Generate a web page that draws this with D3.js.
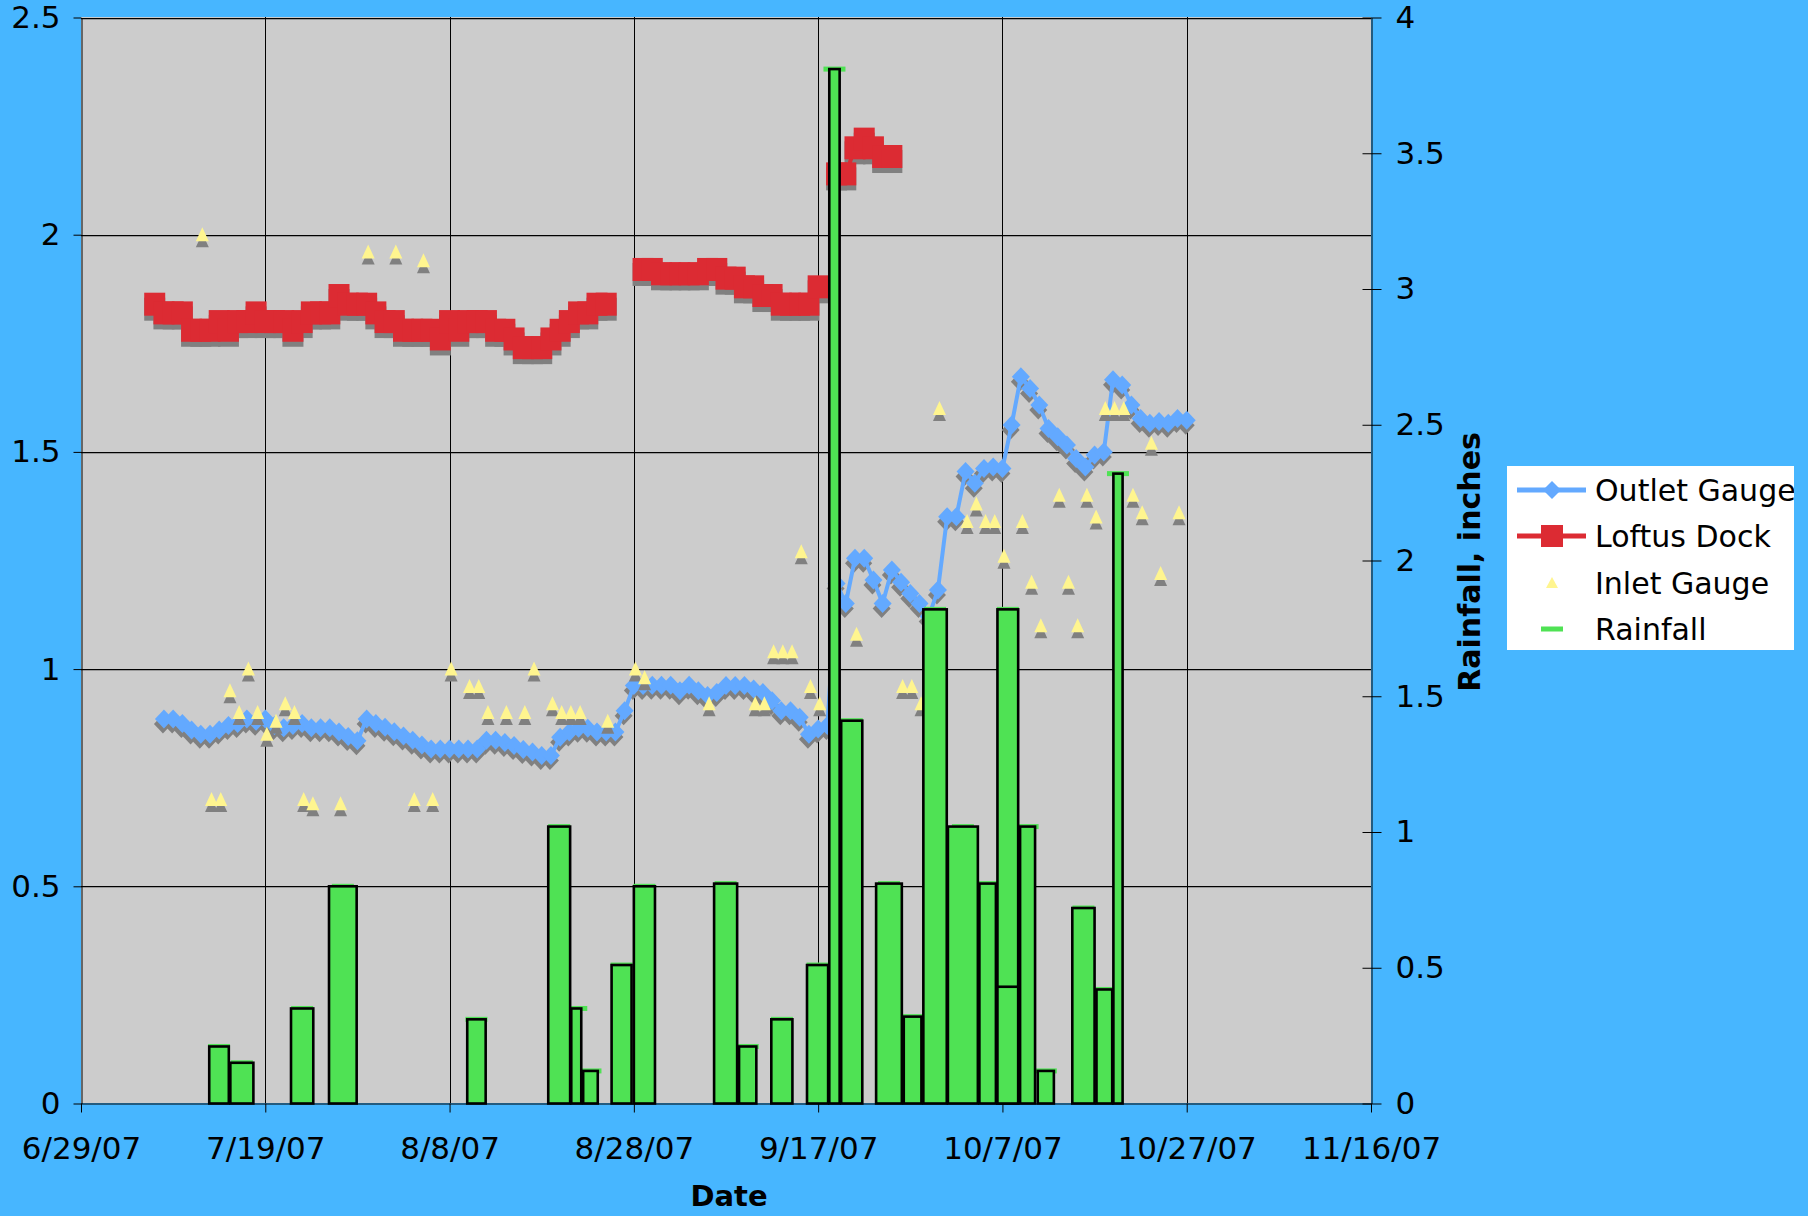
<!DOCTYPE html>
<html>
<head>
<meta charset="utf-8">
<script src="https://cdn.jsdelivr.net/npm/d3@7"></script>
<style>
  body { margin: 0; background: #47b6ff; }
  svg { display: block; font-family: "DejaVu Sans", Verdana, sans-serif; }
</style>
</head>
<body>
<svg id="chart" width="1808" height="1216"></svg>
<script>
// axis ticks
const dateTicks = ["6/29/07", "7/19/07", "8/8/07", "8/28/07", "9/17/07", "10/7/07", "10/27/07", "11/16/07"];
const levelTicks = [0, 0.5, 1, 1.5, 2, 2.5];
const rainTicks = [0, 0.5, 1, 1.5, 2, 2.5, 3, 3.5, 4];

// Outlet Gauge, one reading a day from 7/8/07
const outletStart = "7/8/07";
const outletLevel = [
  0.885, 0.885, 0.875, 0.86, 0.85, 0.85, 0.86, 0.87, 0.875, 0.885,
  0.88, 0.885, 0.87, 0.865, 0.87, 0.875, 0.865, 0.865, 0.865, 0.855,
  0.845, 0.835, 0.885, 0.875, 0.866, 0.856, 0.846, 0.836, 0.825, 0.816,
  0.816, 0.816, 0.816, 0.816, 0.816, 0.836, 0.836, 0.831, 0.824, 0.815,
  0.809, 0.801, 0.801, 0.843, 0.855, 0.864, 0.864, 0.855, 0.855, 0.855,
  0.904, 0.962, 0.962, 0.963, 0.963, 0.963, 0.95, 0.963, 0.95, 0.939,
  0.946, 0.962, 0.962, 0.962, 0.954, 0.946, 0.927, 0.904, 0.904, 0.889,
  0.85, 0.862, 0.87, 1.197, 1.151, 1.255, 1.255, 1.205, 1.151, 1.228,
  1.2, 1.174, 1.151, 1.121, 1.182, 1.351, 1.351, 1.455, 1.428, 1.462,
  1.465, 1.462, 1.562, 1.673, 1.646, 1.608, 1.554, 1.535, 1.516, 1.485,
  1.465, 1.493, 1.5, 1.666, 1.654, 1.608, 1.577, 1.566, 1.57, 1.566,
  1.577, 1.573
];

// Loftus Dock, one reading a day from 7/7/07 (null = no reading)
const loftusStart = "7/7/07";
const loftusLevel = [
  1.84, 1.82, 1.82, 1.82, 1.78, 1.78, 1.78, 1.80, 1.78, 1.80,
  1.80, 1.82, 1.80, 1.80, 1.80, 1.78, 1.80, 1.82, 1.82, 1.82,
  1.86, 1.84, 1.84, 1.84, 1.82, 1.80, 1.80, 1.78, 1.78, 1.78,
  1.78, 1.76, 1.80, 1.78, 1.80, 1.80, 1.80, 1.78, 1.78, 1.76,
  1.74, 1.74, 1.74, 1.76, 1.78, 1.80, 1.82, 1.82, 1.84, 1.84,
  null, null, null, 1.92, 1.92, 1.91, 1.91, 1.91, 1.91, 1.91,
  1.92, 1.92, 1.90, 1.90, 1.88, 1.88, 1.86, 1.86, 1.84, 1.84,
  1.84, 1.84, 1.88, null, 2.14, 2.14, 2.20, 2.22, 2.20, 2.18, 2.18
];

// Inlet Gauge spot readings
const inletDates = [
  "7/12/07 04:00", "7/13/07 04:00", "7/14/07 04:00", "7/15/07 04:00", "7/16/07 04:00",
  "7/17/07 04:00", "7/18/07 04:00", "7/19/07 04:00", "7/20/07 04:00", "7/21/07 04:00",
  "7/22/07 04:00", "7/23/07 04:00", "7/24/07 04:00", "7/27/07 04:00", "7/30/07 04:00",
  "8/2/07 04:00", "8/4/07 04:00", "8/5/07 04:00", "8/6/07 04:00", "8/8/07 04:00",
  "8/10/07 04:00", "8/11/07 04:00", "8/12/07 04:00", "8/14/07 04:00", "8/16/07 04:00",
  "8/17/07 04:00", "8/19/07 04:00", "8/20/07 04:00", "8/21/07 04:00", "8/22/07 04:00",
  "8/25/07 04:00", "8/28/07 04:00", "8/29/07 04:00", "9/5/07 04:00", "9/10/07 04:00",
  "9/11/07 04:00", "9/12/07 04:00", "9/13/07 04:00", "9/14/07 04:00", "9/15/07 04:00",
  "9/16/07 04:00", "9/17/07 04:00", "9/21/07 04:00", "9/26/07 04:00", "9/27/07 04:00",
  "9/28/07 04:00", "9/30/07 04:00", "10/3/07 04:00", "10/4/07 04:00", "10/5/07 04:00",
  "10/6/07 04:00", "10/7/07 04:00", "10/9/07 04:00", "10/10/07 04:00", "10/11/07 04:00",
  "10/13/07 04:00", "10/14/07 04:00", "10/15/07 04:00", "10/16/07 04:00", "10/17/07 04:00",
  "10/18/07 04:00", "10/19/07 04:00", "10/20/07 04:00", "10/21/07 04:00", "10/22/07 04:00",
  "10/23/07 04:00", "10/24/07 04:00", "10/26/07 04:00"
];
const inletLevel = [
  2.00, 0.70, 0.70, 0.95, 0.90, 1.00, 0.90, 0.85, 0.88, 0.92,
  0.90, 0.70, 0.69, 0.69, 1.96, 1.96, 0.70, 1.94, 0.70, 1.00,
  0.96, 0.96, 0.90, 0.90, 0.90, 1.00, 0.92, 0.90, 0.90, 0.90,
  0.88, 1.00, 0.98, 0.92, 0.92, 0.92, 1.04, 1.04, 1.04, 1.27,
  0.96, 0.92, 1.08, 0.96, 0.96, 0.92, 1.60, 1.34, 1.38, 1.34,
  1.34, 1.26, 1.34, 1.20, 1.10, 1.40, 1.20, 1.10, 1.40, 1.35,
  1.60, 1.60, 1.60, 1.40, 1.36, 1.52, 1.22, 1.36
];

// Rainfall (inches) per collection period
const rainFrom = [
  "7/12/07 22:00", "7/15/07 05:00", "7/21/07 19:00", "7/25/07 22:00", "8/9/07 22:00",
  "8/18/07 17:00", "8/21/07 05:00", "8/22/07 12:00", "8/25/07 14:00", "8/28/07 00:00",
  "9/5/07 17:00", "9/8/07 10:00", "9/11/07 22:00", "9/15/07 19:00", "9/18/07 05:00",
  "9/19/07 12:00", "9/23/07 07:00", "9/26/07 07:00", "9/28/07 10:00", "10/1/07 02:00",
  "10/4/07 12:00", "10/6/07 11:00", "10/6/07 11:00", "10/8/07 22:00", "10/10/07 20:00",
  "10/14/07 14:00", "10/17/07 05:00", "10/19/07 01:00"
];
const rainTo = [
  "7/15/07 01:00", "7/17/07 17:00", "7/24/07 05:00", "7/28/07 22:00", "8/11/07 22:00",
  "8/21/07 02:00", "8/22/07 07:00", "8/24/07 02:00", "8/27/07 18:00", "8/30/07 07:00",
  "9/8/07 05:00", "9/10/07 07:00", "9/14/07 05:00", "9/18/07 02:00", "9/19/07 08:00",
  "9/21/07 19:00", "9/26/07 02:00", "9/28/07 05:00", "9/30/07 23:00", "10/4/07 08:00",
  "10/6/07 07:00", "10/8/07 17:00", "10/8/07 17:00", "10/10/07 13:00", "10/12/07 14:00",
  "10/17/07 00:00", "10/18/07 22:00", "10/20/07 01:00"
];
const rainInches = [
  0.21, 0.15, 0.35, 0.80, 0.31, 1.02, 0.35, 0.12, 0.51, 0.80,
  0.81, 0.21, 0.31, 0.51, 3.81, 1.41, 0.81, 0.32, 1.82, 1.02,
  0.81, 1.82, 0.43, 1.02, 0.12, 0.72, 0.42, 2.32
];

const W = 1808, H = 1216;
const plotL = 81, plotR = 1371, plotT = 17, plotB = 1103;

const blue = "#63a9ff", red = "#dc2b33", yellow = "#fff58f", green = "#4fe254", shadow = "#808080";

const parseDay = d3.timeParse("%m/%d/%y");
const parseTime = d3.timeParse("%m/%d/%y %H:%M");

const x = d3.scaleTime()
  .domain([parseDay(dateTicks[0]), parseDay(dateTicks[dateTicks.length - 1])])
  .range([plotL, plotR]);
const yLevel = d3.scaleLinear().domain([0, 2.5]).range([plotB + 0.5, plotT + 0.5]);
const yRain = d3.scaleLinear().domain([0, 4]).range([plotB + 0.5, plotT + 0.5]);

const outletData = outletLevel.map((v, i) => ({ date: d3.timeDay.offset(parseDay(outletStart), i), v }));
const loftusData = loftusLevel.map((v, i) => ({ date: d3.timeDay.offset(parseDay(loftusStart), i), v }));
const inletData = inletLevel.map((v, i) => ({ date: parseTime(inletDates[i]), v }));
const rainData = rainInches.map((v, i) => ({ from: parseTime(rainFrom[i]), to: parseTime(rainTo[i]), v }));

const svg = d3.select("#chart");

svg.append("rect").attr("width", W).attr("height", H).attr("fill", "#47b6ff");
svg.append("rect")
  .attr("x", plotL).attr("y", plotT)
  .attr("width", plotR - plotL).attr("height", plotB - plotT)
  .attr("fill", "#cccccc");

// grid lines
const grid = svg.append("g");
levelTicks.filter(v => v > 0).forEach(v => {
  const yy = Math.round(yLevel(v)) + 0.5;
  grid.append("line").attr("x1", plotL).attr("x2", plotR).attr("y1", yy + 1).attr("y2", yy + 1)
    .attr("stroke", "#999").attr("stroke-width", 1);
  grid.append("line").attr("x1", plotL).attr("x2", plotR).attr("y1", yy).attr("y2", yy)
    .attr("stroke", "#000").attr("stroke-width", 1);
});
dateTicks.slice(1, -1).forEach(t => {
  const xx = Math.round(x(parseDay(t))) + 0.5;
  grid.append("line").attr("x1", xx).attr("x2", xx).attr("y1", plotT).attr("y2", plotB)
    .attr("stroke", "#000").attr("stroke-width", 1);
});

// axes
const fmt = d3.format("~g");
const axisL = svg.append("g")
  .attr("transform", `translate(${plotL + 0.5},0)`)
  .call(d3.axisLeft(yLevel).tickValues(levelTicks).tickSize(8).tickSizeOuter(0).tickPadding(13).tickFormat(fmt));
const axisR = svg.append("g")
  .attr("transform", `translate(${plotR + 0.5},0)`)
  .call(d3.axisRight(yRain).tickValues(rainTicks).tickSize(10).tickSizeOuter(0).tickPadding(14).tickFormat(fmt));
axisR.selectAll(".tick line").attr("x1", -9);
const axisB = svg.append("g")
  .attr("transform", `translate(0,${plotB + 0.5})`)
  .call(d3.axisBottom(x).tickValues(dateTicks.map(parseDay)).tickSize(9).tickSizeOuter(0).tickPadding(24)
    .tickFormat(d3.timeFormat("%-m/%-d/%y")));

[axisL, axisR, axisB].forEach(g => {
  g.attr("font-family", null).attr("font-size", 31).attr("color", "#000");
  g.selectAll("text").attr("fill", "#000");
});

// data layers
const layer = svg.append("g");
const diamond = "M0,-9.5L9,0L0,9.5L-9,0Z";
const triangle = "M0,-7.5L6.5,6.5L-6.5,6.5Z";

const line = d3.line()
  .defined(d => d.v != null)
  .x(d => x(d.date))
  .y(d => yLevel(d.v));

// Outlet Gauge
const outletPts = outletData.filter(d => d.v != null);
layer.append("g").selectAll("path").data(outletPts).join("path")
  .attr("d", diamond).attr("fill", shadow)
  .attr("transform", d => `translate(${x(d.date) - 1},${yLevel(d.v) + 5})`);
layer.append("path").datum(outletData)
  .attr("d", line).attr("fill", "none").attr("stroke", blue).attr("stroke-width", 4);
layer.append("g").selectAll("path").data(outletPts).join("path")
  .attr("d", diamond).attr("fill", blue)
  .attr("transform", d => `translate(${x(d.date)},${yLevel(d.v)})`);

// Loftus Dock
const loftusPts = loftusData.filter(d => d.v != null);
layer.append("g").selectAll("rect").data(loftusPts).join("rect")
  .attr("x", d => x(d.date) - 10.5).attr("y", d => yLevel(d.v) - 11.5 + 5)
  .attr("width", 21).attr("height", 23).attr("fill", shadow);
layer.append("path").datum(loftusData)
  .attr("d", line).attr("fill", "none").attr("stroke", red).attr("stroke-width", 4);
layer.append("g").selectAll("rect").data(loftusPts).join("rect")
  .attr("x", d => x(d.date) - 10.5).attr("y", d => yLevel(d.v) - 11.5)
  .attr("width", 21).attr("height", 23).attr("fill", red);

// Inlet Gauge
layer.append("g").selectAll("path").data(inletData).join("path")
  .attr("d", triangle).attr("fill", shadow)
  .attr("transform", d => `translate(${x(d.date)},${yLevel(d.v) + 6})`);
layer.append("g").selectAll("path").data(inletData).join("path")
  .attr("d", triangle).attr("fill", yellow)
  .attr("transform", d => `translate(${x(d.date)},${yLevel(d.v)})`);

// Rainfall dash markers (mostly hidden), then the columns on top
layer.append("g").selectAll("rect").data(rainData).join("rect")
  .attr("x", d => (x(d.from) + x(d.to)) / 2 - 11).attr("y", d => yRain(d.v) - 2.5)
  .attr("width", 22).attr("height", 5).attr("fill", green);
layer.append("g").selectAll("rect").data(rainData).join("rect")
  .attr("x", d => x(d.from)).attr("y", d => yRain(d.v))
  .attr("width", d => x(d.to) - x(d.from))
  .attr("height", d => yRain(0) - yRain(d.v))
  .attr("fill", green).attr("stroke", "#000").attr("stroke-width", 2.6);

// axis titles
svg.append("text")
  .attr("x", 729).attr("y", 1206)
  .attr("text-anchor", "middle").attr("font-size", 29).attr("font-weight", "bold")
  .text("Date");
svg.append("text")
  .attr("transform", "translate(1480,562) rotate(-90)")
  .attr("text-anchor", "middle").attr("font-size", 30).attr("font-weight", "bold")
  .text("Rainfall, inches");

// legend
const legend = svg.append("g");
svg.append("clipPath").attr("id", "legendClip")
  .append("rect").attr("x", 1507).attr("y", 466).attr("width", 287).attr("height", 184);
legend.append("rect").attr("x", 1507).attr("y", 466).attr("width", 287).attr("height", 184).attr("fill", "#fff");
const items = legend.append("g").attr("clip-path", "url(#legendClip)");
const rows = [
  { name: "Outlet Gauge", y: 490 },
  { name: "Loftus Dock", y: 536 },
  { name: "Inlet Gauge", y: 583 },
  { name: "Rainfall", y: 629 }
];
const lx = 1552;
items.append("line").attr("x1", 1517).attr("x2", 1586).attr("y1", rows[0].y).attr("y2", rows[0].y)
  .attr("stroke", blue).attr("stroke-width", 5);
items.append("path").attr("d", "M0,-9L9,0L0,9L-9,0Z").attr("fill", blue)
  .attr("transform", `translate(${lx},${rows[0].y})`);
items.append("line").attr("x1", 1517).attr("x2", 1586).attr("y1", rows[1].y).attr("y2", rows[1].y)
  .attr("stroke", red).attr("stroke-width", 5);
items.append("rect").attr("x", lx - 11).attr("y", rows[1].y - 11).attr("width", 22).attr("height", 22).attr("fill", red);
items.append("path").attr("d", "M0,-6L6,5L-6,5Z").attr("fill", yellow)
  .attr("transform", `translate(${lx},${rows[2].y})`);
items.append("rect").attr("x", lx - 11).attr("y", rows[3].y - 2.5).attr("width", 22).attr("height", 5).attr("fill", green);
items.selectAll("text.lbl").data(rows).join("text")
  .attr("class", "lbl")
  .attr("x", 1595).attr("y", d => d.y).attr("dy", "0.36em")
  .attr("font-size", 30).attr("fill", "#000")
  .text(d => d.name);
</script>
</body>
</html>
